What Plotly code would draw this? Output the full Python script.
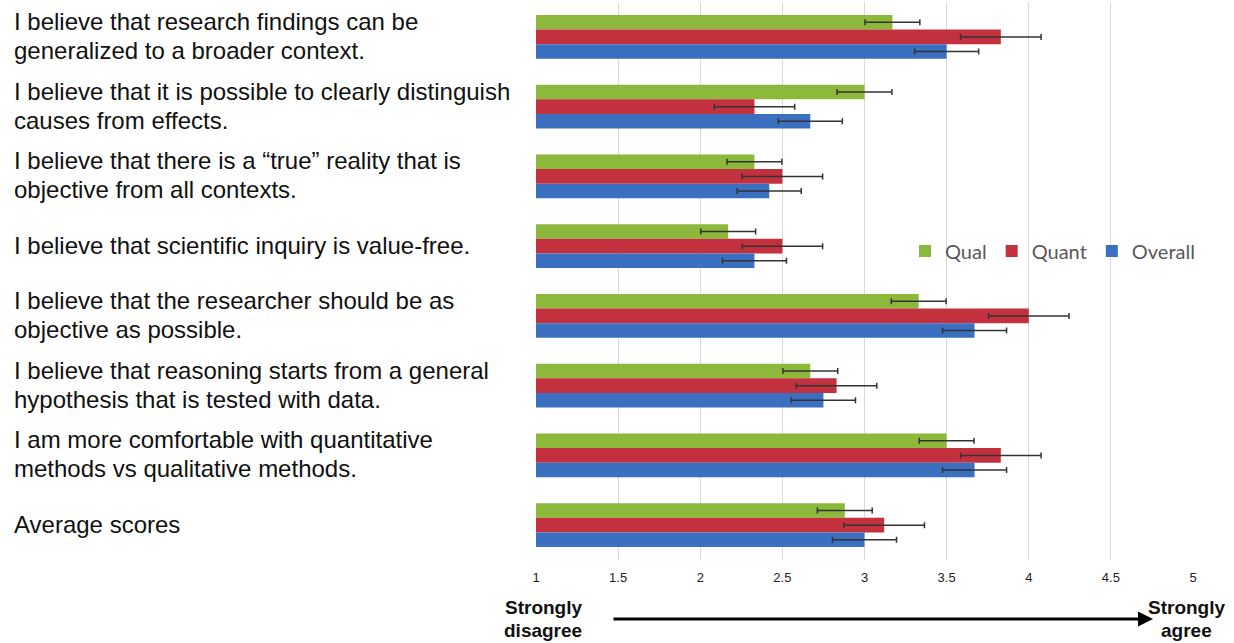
import plotly.graph_objects as go

categories = [
    "I believe that research findings can be<br>generalized to a broader context.",
    "I believe that it is possible to clearly distinguish<br>causes from effects.",
    "I believe that there is a “true” reality that is<br>objective from all contexts.",
    "I believe that scientific inquiry is value-free.",
    "I believe that the researcher should be as<br>objective as possible.",
    "I believe that reasoning starts from a general<br>hypothesis that is tested with data.",
    "I am more comfortable with quantitative<br>methods vs qualitative methods.",
    "Average scores",
]
qual = [3.17, 3.0, 2.33, 2.17, 3.33, 2.67, 3.5, 2.88]
quant = [3.83, 2.33, 2.5, 2.5, 4.0, 2.83, 3.83, 3.12]
overall = [3.5, 2.67, 2.42, 2.33, 3.67, 2.75, 3.67, 3.0]
qual_err = [0.167, 0.167, 0.167, 0.167, 0.167, 0.167, 0.167, 0.167]
quant_err = [0.245, 0.245, 0.245, 0.245, 0.245, 0.245, 0.245, 0.245]
overall_err = [0.195, 0.195, 0.195, 0.195, 0.195, 0.195, 0.195, 0.195]
tick_vals = [1, 1.5, 2, 2.5, 3, 3.5, 4, 4.5, 5]
tick_text = ["1", "1.5", "2", "2.5", "3", "3.5", "4", "4.5", "5"]

series = [
    ("Qual", qual, qual_err, "#8cb83c"),
    ("Quant", quant, quant_err, "#c3313f"),
    ("Overall", overall, overall_err, "#3b6fc0"),
]

fig = go.Figure()
for name, vals, errs, color in series:
    fig.add_trace(go.Bar(
        name=name, y=categories, x=[v - 1 for v in vals], base=1,
        orientation="h", marker=dict(color=color, line=dict(width=0)),
        error_x=dict(type="data", array=errs, color="#333333", thickness=1.5, width=3),
    ))

L, R, T, B = 536, 41, 2, 83
W, H = 1234, 643
pw = W - L - R
ph = H - T - B


def py(ypix):
    return (H - B - ypix) / ph


def px(xpix):
    return (xpix - L) / pw


label_font = dict(family="Liberation Sans, Arial", size=24, color="#111111")
line_gap = 29
annotations = []
for c in categories:
    lines = c.split("<br>")
    n = len(lines)
    for i, line in enumerate(lines):
        shift = ((n - 1) / 2 - i) * line_gap + 1
        annotations.append(dict(
            text=line, xref="paper", yref="y", x=-(L - 12) / pw, y=c,
            xanchor="left", yanchor="middle", align="left", showarrow=False,
            yshift=shift, font=label_font,
        ))

end_font = dict(family="Liberation Sans, Arial", size=19, color="#111111")
for word, xc, yc in [("Strongly", 543, 607), ("disagree", 543, 630),
                     ("Strongly", 1186, 607), ("agree", 1186, 630)]:
    annotations.append(dict(
        text="<b>" + word + "</b>", xref="paper", yref="paper",
        x=px(xc), y=py(yc), xanchor="center", yanchor="middle", showarrow=False,
        font=end_font,
    ))
annotations.append(dict(
    text="", xref="paper", yref="paper", x=px(1153), y=py(619),
    ax=-(1153 - 612), ay=0, axref="pixel", ayref="pixel",
    showarrow=True, arrowhead=2, arrowsize=1, arrowwidth=3, arrowcolor="#000000",
))

fig.update_layout(
    width=W, height=H,
    margin=dict(l=L, r=R, t=T, b=B),
    paper_bgcolor="white", plot_bgcolor="white",
    barmode="group", bargap=0.37, bargroupgap=0,
    showlegend=True,
    legend=dict(
        orientation="h", x=px(905), y=py(251), xanchor="left", yanchor="middle",
        bgcolor="rgba(0,0,0,0)", font=dict(family="Lato, Open Sans", size=20, color="#595959"),
        itemwidth=30,
    ),
    annotations=annotations,
    xaxis=dict(
        range=[1, 5], tickvals=tick_vals, ticktext=tick_text,
        showgrid=True, gridcolor="#d9d9d9", gridwidth=1, zeroline=False,
        showline=False, ticks="", ticklabelstandoff=8,
        tickfont=dict(family="Liberation Sans, Arial", size=13, color="#222222"),
    ),
    yaxis=dict(
        autorange="reversed", showticklabels=False, showgrid=False,
        showline=False, ticks="",
    ),
)

fig.write_html("out.html", config={"displayModeBar": False},
               post_script="document.body.style.margin='0px';")
